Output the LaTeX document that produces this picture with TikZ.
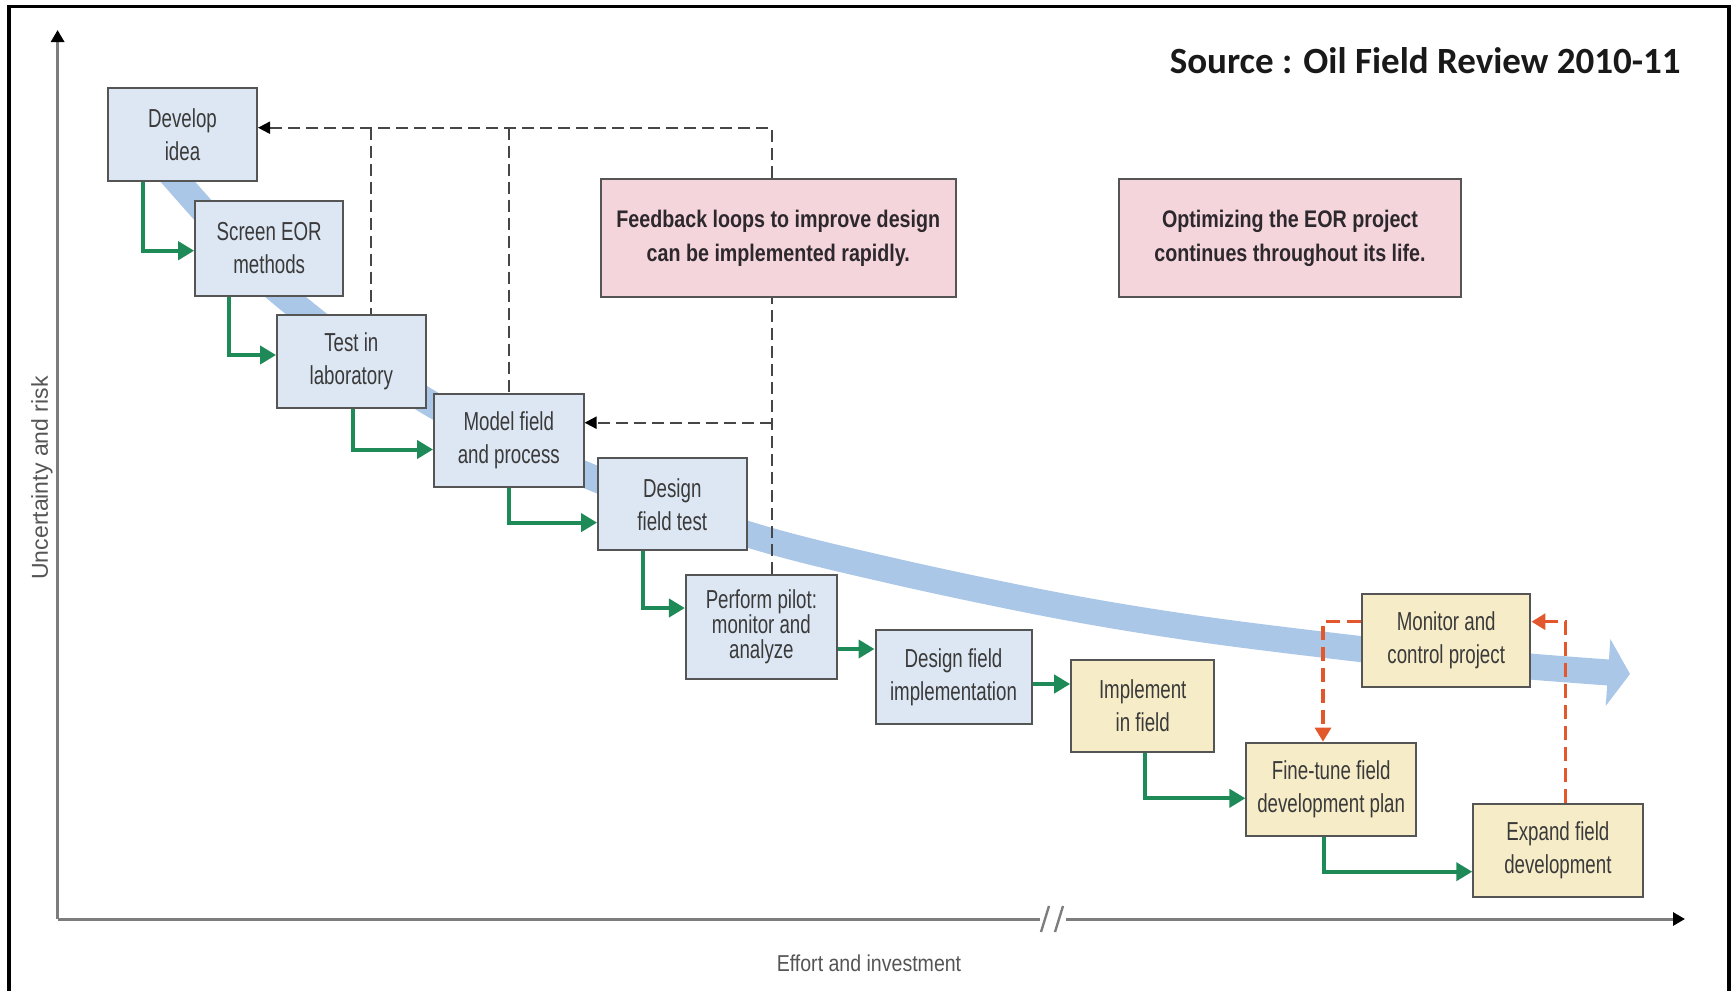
\documentclass[tikz,border=0pt]{standalone}
\usepackage{fontspec}
\usetikzlibrary{arrows.meta,calc}
\setmainfont{Liberation Sans}
\newfontfamily\bxf[FakeStretch=0.72]{Liberation Sans}
\newfontfamily\pkf[FakeStretch=0.82]{Liberation Sans}
\newfontfamily\axf[FakeStretch=0.85]{Liberation Sans}
\newfontfamily\srcf{Carlito}
\definecolor{bluefill}{RGB}{221,231,243}
\definecolor{yelfill}{RGB}{246,236,199}
\definecolor{pinkfill}{RGB}{244,213,219}
\definecolor{bandblue}{RGB}{170,199,232}
\definecolor{grn}{RGB}{30,138,88}
\definecolor{orng}{RGB}{226,88,44}
\definecolor{bord}{RGB}{85,85,85}
\definecolor{txt}{RGB}{58,58,58}
\definecolor{pinktxt}{RGB}{45,40,45}
\definecolor{axgray}{RGB}{125,125,125}
\definecolor{labgray}{RGB}{85,85,85}
\definecolor{dashgray}{RGB}{70,70,70}
\definecolor{srctxt}{RGB}{25,25,25}
\pgfdeclarelayer{bandlayer}
\pgfdeclarelayer{connlayer}
\pgfsetlayers{bandlayer,connlayer,main}
\begin{document}
\begin{tikzpicture}[x=0.5pt,y=-0.5pt,
  box/.style={draw=bord, line width=1pt, inner sep=0pt, align=center, text=txt, font=\bxf\fontsize{13}{16.5}\selectfont},
  bluebox/.style={box, fill=bluefill},
  yelbox/.style={box, fill=yelfill},
  pinkbox/.style={draw=bord, line width=1pt, fill=pinkfill, inner sep=0pt, align=center, text=pinktxt, font=\pkf\bfseries\fontsize{12}{17}\selectfont},
  sz/.style 2 args={minimum width=#1, minimum height=#2},
  garr/.style={draw=grn, line width=2pt, -{Triangle[length=8pt,width=9pt]}},
  kdash/.style={draw=dashgray, line width=1pt, dash pattern=on 6pt off 3pt},
  karr/.style={kdash, -{Triangle[length=6pt,width=6pt,color=black]}},
  odash/.style={draw=orng, line width=1.6pt, dash pattern=on 7pt off 3.5pt, -{Triangle[length=7pt,width=8pt]}},
  axisline/.style={draw=axgray, line width=1.5pt},
  axtip/.style={-{Triangle[length=6pt,width=6.5pt,color=black]}},
]
\useasboundingbox (0,0) rectangle (1736,991);

% frame
\draw[line width=1.6pt, black] (9,995) -- (9,6.5) -- (1729,6.5) -- (1729,995);

% axes
\coordinate (O) at (57.6,919);
\coordinate (Ytop) at (57.6,30);
\coordinate (B1) at (1040,919);
\coordinate (B2) at (1066,919);
\coordinate (Xend) at (1685,919);
\draw[axisline, axtip] (O) -- (Ytop);
\draw[axisline] (O) -- (B1);
\draw[axisline, axtip] (B2) -- (Xend);
\draw[axisline, line width=1.2pt] (1041,932) -- (1049,906);
\draw[axisline, line width=1.2pt] (1055,932) -- (1063,906);

\node[rotate=90, inner sep=0pt, font=\fontsize{11.5}{14}\selectfont, text=labgray] (ylab) at (42,478) {Uncertainty and risk};
\node[inner sep=0pt, font=\axf\fontsize{11.5}{14}\selectfont, text=labgray] (xlab) at (869,963) {Effort and investment};
\node[anchor=base east, inner sep=0pt, font=\srcf\bfseries\fontsize{18.5}{22}\selectfont, text=srctxt] (src) at (1681,73) {Source : Oil Field Review 2010-11};

% process boxes
\node[bluebox, sz={74.5pt}{46.5pt}] (dev) at (182.5,134.5) {Develop\\idea};
\node[bluebox, sz={74pt}{47.25pt}] (scr) at (269.2,248.3) {Screen EOR\\methods};
\node[bluebox, sz={74.25pt}{46.35pt}] (tst) at (351.3,361.3) {Test in\\laboratory};
\node[bluebox, sz={74.75pt}{46.5pt}] (mdl) at (508.8,440.5) {Model field\\and process};
\node[bluebox, sz={74.25pt}{46pt}] (dft) at (672.3,504.3) {Design\\field test};
\node[bluebox, sz={75.5pt}{52pt}, font=\bxf\fontsize{13}{12.5}\selectfont] (pil) at (761.4,627) {Perform pilot:\\monitor and\\analyze};
\node[bluebox, sz={78pt}{47pt}] (dfi) at (953.5,677) {Design field\\implementation};
\node[yelbox, sz={71.5pt}{46pt}] (imp) at (1142.7,706) {Implement\\in field};
\node[yelbox, sz={84.8pt}{46.65pt}] (fin) at (1331.2,789.3) {Fine-tune field\\development plan};
\node[yelbox, sz={84.25pt}{46.65pt}] (mon) at (1446.2,640.7) {Monitor and\\control project};
\node[yelbox, sz={84.65pt}{46.35pt}] (exp) at (1557.9,850.3) {Expand field\\development};

% note boxes
\node[pinkbox, sz={177.5pt}{58.75pt}] (fb) at (778.3,238) {Feedback loops to improve design\\can be implemented rapidly.};
\node[pinkbox, sz={171.25pt}{58.85pt}] (opt) at (1290,238) {Optimizing the EOR project\\continues throughout its life.};

% big blue trend arrow
\begin{pgfonlayer}{bandlayer}
\draw[bandblue, line width=13pt, -{Triangle[length=11pt,width=33pt]}]
  plot[smooth, tension=0.55] coordinates {(150,150) (210,218) (277,290) (430,403) (591,477) (747,534) (893,571) (1060,606) (1200,629) (1360,649) (1500,664) (1630,674)};
\end{pgfonlayer}

\begin{pgfonlayer}{connlayer}
% black dashed feedback loops
\coordinate (fbR) at (772,127.7);
\coordinate (v1) at (371.2,127.7);
\coordinate (v2) at (509,127.7);
\coordinate (h2) at (772,422.7);
\draw[karr] (fbR |- pil.north) -- (fbR) -- (fbR -| dev.east);
\draw[kdash] (v1) -- (v1 |- tst.north);
\draw[kdash] (v2) -- (v2 |- mdl.north);
\draw[karr] (h2) -- (h2 -| mdl.east);

% green sequence arrows
\draw[garr] ($(dev.south)+(-40,0)$) |- ($(scr.west)+(0,2.4)$);
\draw[garr] ($(scr.south)+(-40.3,0)$) |- ($(tst.west)+(0,-6.3)$);
\draw[garr] ($(tst.south)+(1.5,0)$) |- ($(mdl.west)+(0,9)$);
\draw[garr] ($(mdl.south)+(0.2,0)$) |- ($(dft.west)+(0,18.3)$);
\draw[garr] ($(dft.south)+(-29.3,0)$) |- ($(pil.west)+(0,-19)$);
\draw[garr] ($(pil.east)+(0,22)$) -- ($(dfi.west)+(0,-28)$);
\draw[garr] ($(dfi.east)+(0,7)$) -- ($(imp.west)+(0,-22)$);
\draw[garr] ($(imp.south)+(2,0)$) |- ($(fin.west)+(0,9)$);
\draw[garr] ($(fin.south)+(-7.4,0)$) |- ($(exp.west)+(0,21.4)$);

% orange dashed optimisation loop
\coordinate (o1) at (1323,621.7);
\coordinate (o2) at (1565.5,621.7);
\draw[odash] (o1 -| mon.west) -- (o1) -- (o1 |- fin.north);
\draw[odash] (o2 |- exp.north) -- (o2) -- (o2 -| mon.east);
\end{pgfonlayer}
\end{tikzpicture}
\end{document}
